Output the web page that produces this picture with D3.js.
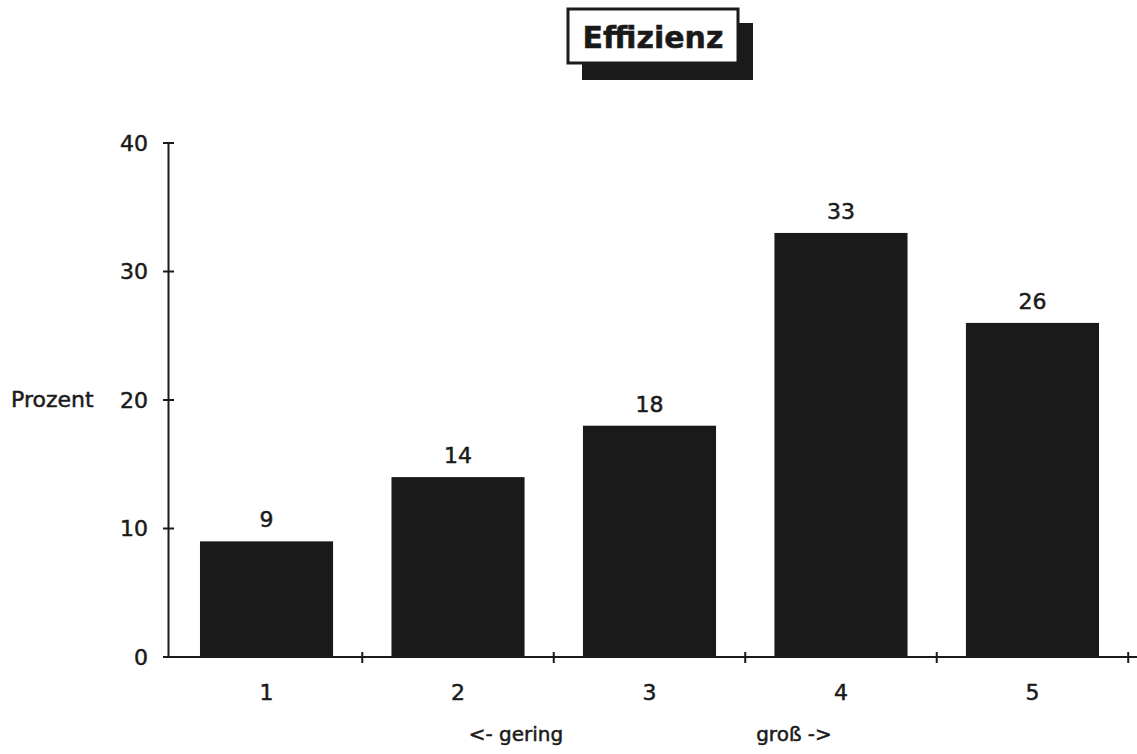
<!DOCTYPE html>
<html>
<head>
<meta charset="utf-8">
<script src="https://cdn.jsdelivr.net/npm/d3@7"></script>
<style>
  html, body { margin: 0; padding: 0; background: #fff; }
  svg { display: block; }
  text { font-family: "DejaVu Sans", sans-serif; fill: #1a1a1a; stroke: #1a1a1a; stroke-width: 0.5px; }
</style>
</head>
<body>
<svg id="chart" width="1137" height="754"></svg>
<script>
// Antworten zur Effizienz, Anteil in Prozent
const categories = ["1", "2", "3", "4", "5"];
const values = [9, 14, 18, 33, 26];
const yTicks = [0, 10, 20, 30, 40];
const chartTitle = "Effizienz";
const yLabel = "Prozent";
const lowLabel = "<- gering";
const highLabel = "groß ->";

const svg = d3.select("#chart");
const ink = "#1a1a1a";

const x = d3.scaleBand().domain(categories).range([168, 1131]).paddingInner(0.305).paddingOuter(0.167);
const y = d3.scaleLinear().domain([0, 40]).range([657, 143]);

// Bars
svg.append("g").selectAll("rect").data(values).join("rect")
  .attr("x", (d, i) => x(categories[i]))
  .attr("y", d => y(d))
  .attr("width", x.bandwidth())
  .attr("height", d => y(0) - y(d))
  .attr("fill", ink);

// Value labels
svg.append("g").selectAll("text").data(values).join("text")
  .attr("x", (d, i) => x(categories[i]) + x.bandwidth() / 2)
  .attr("y", d => y(d) - 14)
  .attr("text-anchor", "middle")
  .attr("font-size", 22)
  .text(d => d);

// Y axis
const yAxis = svg.append("g").attr("transform", "translate(168,0)")
  .call(d3.axisLeft(y).tickValues(yTicks).tickSize(0).tickPadding(20).tickFormat(d3.format("d")));
yAxis.select(".domain").attr("stroke", ink).attr("stroke-width", 2);
yAxis.selectAll("text").attr("font-size", 22).attr("font-family", "DejaVu Sans")
  .attr("fill", ink).attr("stroke", ink).attr("stroke-width", 0.5);
svg.append("g").selectAll("line").data(yTicks).join("line")
  .attr("x1", 163).attr("x2", 174)
  .attr("y1", d => y(d)).attr("y2", d => y(d))
  .attr("stroke", ink).attr("stroke-width", 2);

// X axis baseline and separators between categories
svg.append("line").attr("x1", 168).attr("x2", 1137)
  .attr("y1", y(0)).attr("y2", y(0)).attr("stroke", ink).attr("stroke-width", 2);
const step = x.step();
const sepX = categories.map((c, i) => x(c) + x.bandwidth() + (step - x.bandwidth()) / 2);
svg.append("g").selectAll("line").data(sepX).join("line")
  .attr("x1", d => d).attr("x2", d => d)
  .attr("y1", y(0) - 5).attr("y2", y(0) + 6)
  .attr("stroke", ink).attr("stroke-width", 2);

// Category labels
svg.append("g").selectAll("text").data(categories).join("text")
  .attr("x", d => x(d) + x.bandwidth() / 2)
  .attr("y", 700)
  .attr("text-anchor", "middle")
  .attr("font-size", 22)
  .text(d => d);

// Scale direction hints
svg.append("text").attr("x", 516).attr("y", 741).attr("text-anchor", "middle")
  .attr("font-size", 20).text(lowLabel);
svg.append("text").attr("x", 794).attr("y", 741).attr("text-anchor", "middle")
  .attr("font-size", 20).text(highLabel);

// Y label
svg.append("text").attr("x", 11).attr("y", 407).attr("font-size", 22).text(yLabel);

// Title box with drop shadow
svg.append("rect").attr("x", 582).attr("y", 23).attr("width", 171).attr("height", 57).attr("fill", ink);
svg.append("rect").attr("x", 568).attr("y", 9).attr("width", 170).attr("height", 54)
  .attr("fill", "#fff").attr("stroke", ink).attr("stroke-width", 3);
svg.append("text").attr("x", 653).attr("y", 48).attr("text-anchor", "middle")
  .attr("font-size", 30).attr("font-weight", "bold").attr("font-family", "DejaVu Sans Mono")
  .attr("stroke-width", 0)
  .text(chartTitle);
</script>
</body>
</html>
